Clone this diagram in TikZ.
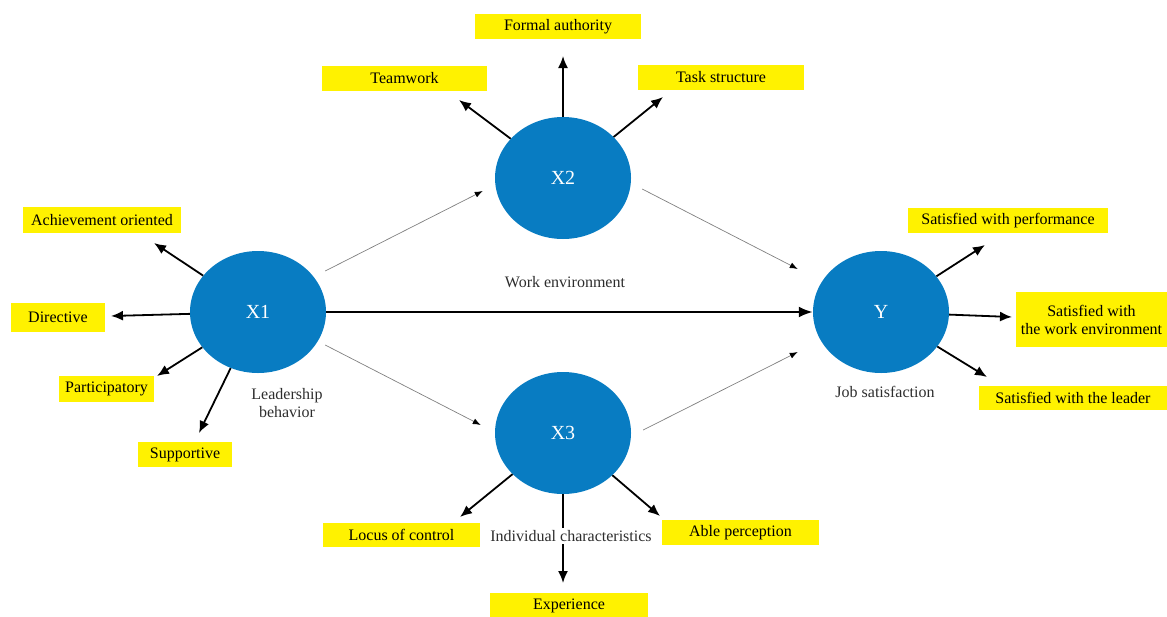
\documentclass[tikz,border=0pt]{standalone}
\usepackage{fontspec}
\setmainfont{Liberation Serif}
\usetikzlibrary{arrows.meta,shapes.geometric,calc}
\definecolor{circblue}{RGB}{8,124,194}
\definecolor{boxyellow}{RGB}{255,242,0}
\definecolor{labgray}{RGB}{45,45,45}
\begin{document}
\begin{tikzpicture}[x=1pt,y=-1pt,
  every node/.style={font=\fontsize{16}{18}\selectfont},
  latent/.style={ellipse, fill=circblue, minimum width=136pt, minimum height=122pt, inner sep=0pt, text=white, font=\fontsize{20}{22}\selectfont},
  ybox/.style={fill=boxyellow, inner sep=0pt, text=black, align=center},
  lab/.style={text=labgray, align=center, inner sep=1pt},
  arr/.style={line width=1.8pt, -{Latex[length=12pt,width=10pt]}},
  mainarr/.style={line width=2.4pt, -{Latex[length=14pt,width=11pt]}},
  garr/.style={line width=0.7pt, draw=gray, -{Latex[length=8pt,width=6pt,color=black]}}]
\useasboundingbox (0,0) rectangle (1167,616);

% latent variables
\node[latent] (X1) at (258,312) {X1};
\node[latent] (X2) at (563,178) {X2};
\node[latent] (X3) at (563,433) {X3};
\node[latent] (Y)  at (881,312) {Y};

% indicator boxes
\node[ybox, minimum width=166pt, minimum height=25pt] (form) at (558,26.5) {Formal authority};
\node[ybox, minimum width=165pt, minimum height=25pt] (team) at (404.5,78.5) {Teamwork};
\node[ybox, minimum width=166pt, minimum height=25pt] (task) at (721,77.5) {Task structure};
\node[ybox, minimum width=158pt, minimum height=26pt] (ach) at (102,220) {Achievement oriented};
\node[ybox, minimum width=94pt, minimum height=29pt] (dir) at (58,317.5) {Directive};
\node[ybox, minimum width=95pt, minimum height=26pt] (part) at (106.5,389) {Participatory};
\node[ybox, minimum width=94pt, minimum height=25pt] (sup) at (185,454.5) {Supportive};
\node[ybox, minimum width=200pt, minimum height=25pt] (perf) at (1008,220.5) {Satisfied with performance};
\node[ybox, minimum width=151pt, minimum height=55pt] (env) at (1091.5,319.5) {Satisfied with\\the work environment};
\node[ybox, minimum width=188pt, minimum height=24pt] (lead) at (1073,398) {Satisfied with the leader};
\node[ybox, minimum width=157pt, minimum height=24pt] (loc) at (401.5,535) {Locus of control};
\node[ybox, minimum width=157pt, minimum height=25pt] (able) at (740.5,532.5) {Able perception};
\node[ybox, minimum width=158pt, minimum height=25pt] (exp) at (569,605.5) {Experience};

% arrow tips
\coordinate (tAch) at (154,243);
\coordinate (tDir) at (111,316);
\coordinate (tPart) at (157,376);
\coordinate (tSup) at (199,433);
\coordinate (tTeam) at (459,100);
\coordinate (tForm) at (563,56);
\coordinate (tTask) at (663,97);
\coordinate (tLoc) at (460,517);
\coordinate (tAble) at (660,516);
\coordinate (tExp) at (563,583);
\coordinate (tPerf) at (985,245);
\coordinate (tEnv) at (1012,317);
\coordinate (tLead) at (987,377);

% indicator arrows
\draw[arr] (X1) -- (tAch);
\draw[arr] (X1) -- (tDir);
\draw[arr] (X1) -- (tPart);
\draw[arr] (X1) -- (tSup);
\draw[arr] (X2) -- (tTeam);
\draw[arr] (X2) -- (tForm);
\draw[arr] (X2) -- (tTask);
\draw[arr] (X3) -- (tLoc);
\draw[arr] (X3) -- (tAble);
\draw[arr] (X3) -- (tExp);
\draw[arr] (Y) -- (tPerf);
\draw[arr] (Y) -- (tEnv);
\draw[arr] (Y) -- (tLead);

% structural paths
\draw[mainarr] (X1) -- (Y);
\draw[garr] ([shift={(-1,-41)}]X1.east) -- ([shift={(-12,13)}]X2.west);
\draw[garr] ([shift={(11,11)}]X2.east) -- ([shift={(-15,-43)}]Y.west);
\draw[garr] ([shift={(-1,33)}]X1.east) -- ([shift={(-14,-8)}]X3.west);
\draw[garr] ([shift={(12,-3)}]X3.east) -- ([shift={(-15,40)}]Y.west);

% labels
\node[lab] (lwork) at (565,282) {Work environment};
\node[lab] (llead) at (287,403) {Leadership\\behavior};
\node[lab] (ljob) at (885,392) {Job satisfaction};
\node[lab, fill=white, inner sep=2pt] (lind) at (571,536) {Individual characteristics};
\end{tikzpicture}
\end{document}
